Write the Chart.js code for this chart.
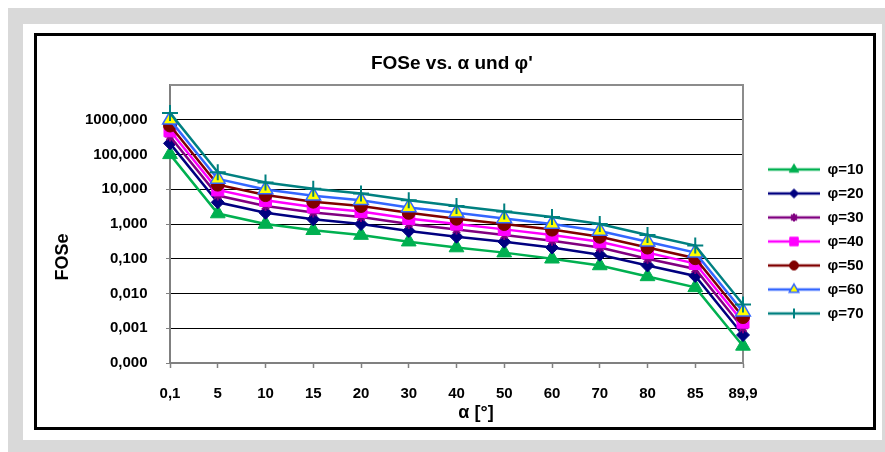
<!DOCTYPE html>
<html>
<head>
<meta charset="utf-8">
<script src="https://cdn.jsdelivr.net/npm/chart.js@4/dist/chart.umd.min.js"></script>
<style>
  html, body { margin: 0; padding: 0; background: #fff; }
  body { width: 885px; height: 452px; position: relative; overflow: hidden; }
  #frame { position: absolute; left: 8px; top: 8px; width: 877px; height: 444px; background: #d9d9d9; }
  #panel { position: absolute; left: 23px; top: 24px; width: 859px; height: 416px; background: #fff; }
  #box { position: absolute; left: 34px; top: 33px; width: 842px; height: 397px; border: 3px solid #000; box-sizing: border-box; }
  #c { position: absolute; left: 30px; top: 36px; }
</style>
</head>
<body>
<div id="frame"></div>
<div id="panel"></div>
<div id="box"></div>
<canvas id="c" width="836" height="411"></canvas>
<script>
// Slope angle α [°] (category axis)
const alphaLabels = ['0,1', '5', '10', '15', '20', '30', '40', '50', '60', '70', '80', '85', '89,9'];

// FOSe per friction angle φ'
const fos10 = [101, 2.0, 1.0, 0.66, 0.48, 0.31, 0.21, 0.15, 0.10, 0.064, 0.031, 0.015, 0.00031];
const fos20 = [209, 4.2, 2.1, 1.36, 1.0, 0.63, 0.43, 0.31, 0.21, 0.13, 0.064, 0.032, 0.00064];
const fos30 = [331, 6.6, 3.3, 2.15, 1.6, 1.0, 0.69, 0.48, 0.33, 0.21, 0.10, 0.051, 0.0010];
const fos40 = [481, 9.6, 4.8, 3.1, 2.3, 1.45, 1.0, 0.70, 0.48, 0.31, 0.15, 0.073, 0.0015];
const fos50 = [683, 13.6, 6.8, 4.4, 3.3, 2.1, 1.42, 1.0, 0.69, 0.43, 0.21, 0.104, 0.0021];
const fos60 = [992, 19.8, 9.8, 6.5, 4.8, 3.0, 2.1, 1.45, 1.0, 0.63, 0.31, 0.15, 0.0030];
const fos70 = [1574, 31, 15.6, 10.3, 7.6, 4.8, 3.3, 2.3, 1.6, 1.0, 0.48, 0.24, 0.0048];

const seriesLabels = ['φ=10', 'φ=20', 'φ=30', 'φ=40', 'φ=50', 'φ=60', 'φ=70'];
const seriesData = [fos10, fos20, fos30, fos40, fos50, fos60, fos70];

// Decade ticks of the FOSe axis
const yTicks = [0.0001, 0.001, 0.01, 0.1, 1, 10, 100, 1000];

const chartTitle = "FOSe vs. α und φ'";
const xTitle = 'α [°]';
const yTitle = 'FOSe';

// Line / marker look of each series
const looks = [
  { line: '#00b050', fill: '#00b050', edge: '#00b050', style: 'triangle', r: 8.5, lr: 5.5, bw: 1 },
  { line: '#000080', fill: '#000080', edge: '#000080', style: 'rectRot',  r: 6.5, lr: 4.5, bw: 1 },
  { line: '#800080', fill: '#800080', edge: '#800080', style: 'star',     r: 5,   lr: 4,   bw: 2 },
  { line: '#ff00ff', fill: '#ff00ff', edge: '#ff00ff', style: 'rect',     r: 8.5, lr: 6,   bw: 1 },
  { line: '#800000', fill: '#800000', edge: '#800000', style: 'circle',   r: 6.5, lr: 4.5, bw: 1 },
  { line: '#3366ff', fill: '#ffff00', edge: '#3366ff', style: 'triangle', r: 8.5, lr: 5.5, bw: 1.5 },
  { line: '#008080', fill: '#008080', edge: '#008080', style: 'cross',    r: 8,   lr: 5,   bw: 2 }
];

const FONT = '"Liberation Sans", Arial, sans-serif';
Chart.defaults.font.family = FONT;
Chart.defaults.font.size = 15;
Chart.defaults.font.weight = 'bold';
Chart.defaults.color = '#000';

// Legend symbol: short line with the series marker in its middle
const ICON_W = 68, ICON_H = 18, ICON_GAP = 16;
function legendIcon(lk) {
  const c = document.createElement('canvas');
  c.width = ICON_W; c.height = ICON_H;
  const g = c.getContext('2d');
  g.strokeStyle = lk.line; g.lineWidth = 2.5;
  g.beginPath(); g.moveTo(ICON_GAP, ICON_H / 2); g.lineTo(ICON_W, ICON_H / 2); g.stroke();
  g.fillStyle = lk.fill; g.strokeStyle = lk.edge; g.lineWidth = lk.bw;
  Chart.helpers.drawPoint(g, { pointStyle: lk.style, radius: lk.lr, borderWidth: lk.bw, rotation: 0 },
    ICON_GAP + (ICON_W - ICON_GAP) / 2, ICON_H / 2);
  return c;
}
const icons = looks.map(legendIcon);

// Plot-area frame (top/right) and the two axis titles
const decor = {
  id: 'decor',
  beforeDatasetsDraw(chart) {
    const { ctx, chartArea: a } = chart;
    ctx.save();
    ctx.strokeStyle = '#8c8c8c';
    ctx.lineWidth = 2;
    ctx.beginPath();
    ctx.moveTo(a.left, a.top);
    ctx.lineTo(a.right, a.top);
    ctx.lineTo(a.right, a.bottom);
    ctx.stroke();
    ctx.restore();
  },
  afterDraw(chart) {
    const { ctx, chartArea: a } = chart;
    ctx.save();
    ctx.fillStyle = '#000';
    ctx.font = 'bold 18px ' + FONT;
    ctx.textAlign = 'center';
    ctx.textBaseline = 'middle';
    ctx.fillText(xTitle, 446, a.bottom + 50);
    ctx.translate(33, a.top + 172);
    ctx.rotate(-Math.PI / 2);
    ctx.fillText(yTitle, 0, 0);
    ctx.restore();
  }
};

const chart = new Chart(document.getElementById('c'), {
  type: 'line',
  data: {
    labels: alphaLabels,
    datasets: seriesData.map((d, i) => ({
      label: seriesLabels[i],
      data: d,
      borderColor: looks[i].line,
      backgroundColor: looks[i].fill,
      borderWidth: 2.5,
      tension: 0,
      fill: false,
      pointStyle: looks[i].style,
      pointRadius: looks[i].r,
      pointBackgroundColor: looks[i].fill,
      pointBorderColor: looks[i].edge,
      pointBorderWidth: looks[i].bw,
      clip: false,
      order: seriesData.length - i
    }))
  },
  options: {
    responsive: false,
    animation: false,
    events: [],
    layout: { padding: { left: 0, top: 0, right: 2, bottom: 34 } },
    plugins: {
      title: {
        display: true,
        text: chartTitle,
        color: '#000',
        font: { size: 19, weight: 'bold' },
        padding: { top: 16.3, bottom: 9.9 }
      },
      legend: {
        display: true,
        position: 'right',
        align: 'center',
        // blank heading: pushes the legend column down a little
        title: { display: true, text: ' ', padding: 8, font: { size: 15 } },
        labels: {
          usePointStyle: true,
          pointStyleWidth: ICON_W,
          padding: 9,
          color: '#000',
          font: { size: 15, weight: 'bold' },
          generateLabels: () => seriesLabels.map((t, i) => ({
            text: t,
            pointStyle: icons[i],
            fillStyle: looks[i].fill,
            strokeStyle: looks[i].line,
            lineWidth: 0,
            hidden: false,
            datasetIndex: i,
            fontColor: '#000'
          }))
        }
      },
      tooltip: { enabled: false }
    },
    scales: {
      x: {
        type: 'category',
        offset: false,
        afterFit: (s) => { s.height = 50; },
        grid: { drawOnChartArea: false, drawTicks: true, tickLength: 5, tickColor: '#808080', tickWidth: 1.5 },
        border: { color: '#808080', width: 2 },
        ticks: { autoSkip: false, maxRotation: 0, padding: 17, color: '#000', font: { size: 15, weight: 'bold' } }
      },
      y: {
        type: 'logarithmic',
        min: 0.0001,
        max: 10000,
        afterFit: (s) => { s.width = 140; },
        afterBuildTicks: (s) => { s.ticks = yTicks.map((v) => ({ value: v })); },
        grid: { color: '#000', lineWidth: 1, drawTicks: true, tickLength: 4, tickColor: '#808080' },
        border: { color: '#808080', width: 2 },
        ticks: {
          padding: 18.5,
          color: '#000',
          font: { size: 15, weight: 'bold' },
          callback: (v) => Number(v).toFixed(3).replace('.', ',')
        }
      }
    }
  },
  plugins: [decor]
});

// keep the plot's right edge clear of the legend column
const dr = chart.chartArea.right - 713;
if (Math.abs(dr) > 0.5) {
  chart.options.layout.padding.right += dr;
  chart.update('none');
}
</script>
</body>
</html>
